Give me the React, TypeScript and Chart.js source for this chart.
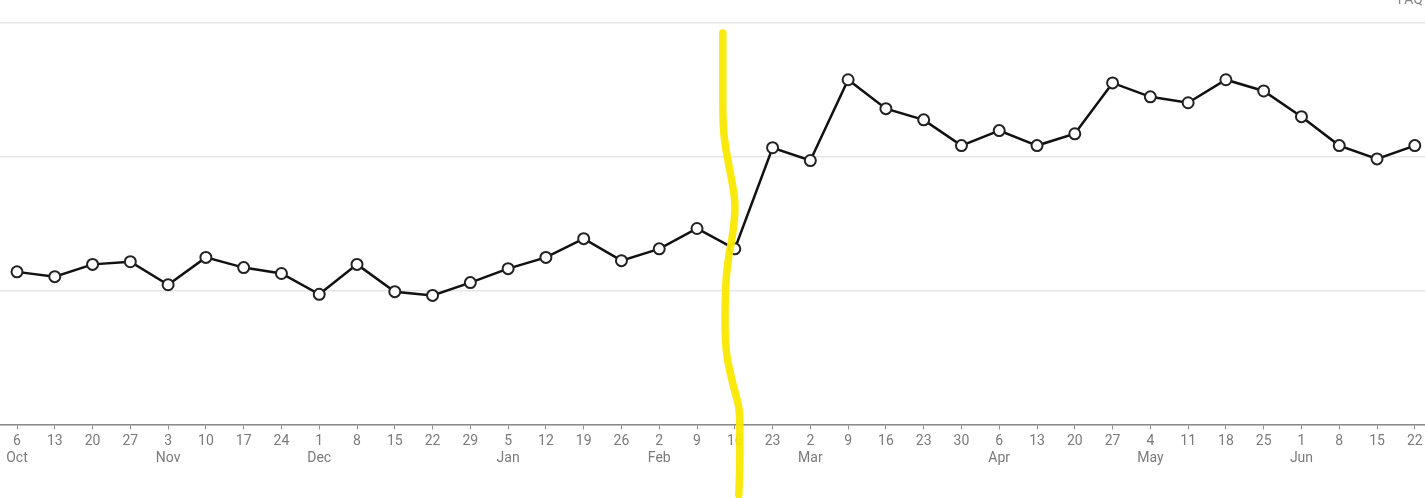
import React, { useEffect, useRef } from "react";
import { Chart, registerables } from "chart.js";

Chart.register(...registerables);

const days: string[] = [
  "6", "13", "20", "27", "3", "10", "17", "24", "1", "8", "15", "22", "29",
  "5", "12", "19", "26", "2", "9", "16", "23", "2", "9", "16", "23", "30",
  "6", "13", "20", "27", "4", "11", "18", "25", "1", "8", "15", "22",
];
const months: string[] = [
  "Oct", "", "", "", "Nov", "", "", "", "Dec", "", "", "", "",
  "Jan", "", "", "", "Feb", "", "", "", "Mar", "", "", "", "",
  "Apr", "", "", "", "May", "", "", "", "Jun", "", "", "",
];
const values: number[] = [
  28.5, 27.6, 29.9, 30.4, 26.1, 31.2, 29.3, 28.2, 24.3, 29.9, 24.8, 24.1, 26.5,
  29.1, 31.2, 34.7, 30.6, 32.8, 36.6, 32.8, 51.7, 49.3, 64.4, 59.0, 56.9, 52.1,
  54.9, 52.1, 54.3, 63.8, 61.2, 60.1, 64.4, 62.3, 57.5, 52.1, 49.6, 52.1,
];
const yGrid: number[] = [0, 25, 50, 75];
const markedIndex = 19; // "16 Feb" hand-drawn marker

const markerPlugin = {
  id: "handMarker",
  afterDatasetsDraw(chart: any) {
    const { ctx } = chart;
    const x0 = chart.scales.x.getPixelForValue(markedIndex);
    // wobbly hand-drawn stroke, offsets relative to the marked point column
    const pts: [number, number][] = [
      [-12, 33], [-12, 80], [-12, 125], [-9, 150], [-3, 180], [1, 205],
      [-2, 235], [-6, 255], [-9, 280], [-10, 320], [-9, 350], [-5, 372],
      [1, 395], [5, 410], [5, 440], [5, 470], [4, 495],
    ];
    ctx.save();
    ctx.strokeStyle = "rgba(250, 232, 0, 0.95)";
    ctx.lineWidth = 7.5;
    ctx.lineCap = "round";
    ctx.lineJoin = "round";
    ctx.beginPath();
    ctx.moveTo(x0 + pts[0][0], pts[0][1]);
    for (let i = 1; i < pts.length - 1; i++) {
      const mx = (x0 + pts[i][0] + x0 + pts[i + 1][0]) / 2;
      const my = (pts[i][1] + pts[i + 1][1]) / 2;
      ctx.quadraticCurveTo(x0 + pts[i][0], pts[i][1], mx, my);
    }
    const last = pts[pts.length - 1];
    ctx.lineTo(x0 + last[0], last[1]);
    ctx.stroke();
    ctx.restore();
  },
};

export default function App() {
  const ref = useRef<HTMLCanvasElement | null>(null);
  useEffect(() => {
    document.body.style.margin = "0";
    const chart = new Chart(ref.current as HTMLCanvasElement, {
      type: "line",
      data: {
        datasets: [
          {
            data: values.map((v, i) => ({ x: i, y: v })),
            borderColor: "#111111",
            borderWidth: 2.5,
            pointRadius: 5.5,
            pointBorderWidth: 2,
            pointBackgroundColor: "#ffffff",
            pointBorderColor: "#222222",
            tension: 0,
            clip: false,
          },
        ],
      },
      options: {
        animation: false,
        responsive: false,
        maintainAspectRatio: false,
        layout: { autoPadding: false, padding: { top: 23, bottom: 27, left: 0, right: 0 } },
        plugins: { legend: { display: false }, tooltip: { enabled: false } },
        scales: {
          x: {
            type: "linear",
            min: -0.45,
            max: 37.27,
            afterBuildTicks: (scale: any) => {
              scale.ticks = days.map((_, i) => ({ value: i }));
            },
            afterFit: (scale: any) => {
              scale.paddingLeft = 0;
              scale.paddingRight = 0;
            },
            ticks: {
              autoSkip: false,
              maxRotation: 0,
              padding: 4,
              color: "#7a7a7a",
              font: { family: "Roboto", size: 14 },
              callback: (v: any) => {
                const i = Math.round(Number(v));
                return months[i] ? [days[i], months[i]] : [days[i], ""];
              },
            },
            grid: {
              drawOnChartArea: false,
              drawTicks: true,
              tickLength: 5,
              color: "#8a8a8a",
            },
            border: { color: "#8a8a8a", width: 1.5 },
          },
          y: {
            min: 0,
            max: 75,
            afterBuildTicks: (scale: any) => {
              scale.ticks = yGrid.map((v) => ({ value: v }));
            },
            afterFit: (scale: any) => {
              scale.width = 0;
            },
            ticks: { display: false, padding: 0 },
            grid: { color: "#e6e6e6", lineWidth: 1.5, drawTicks: false },
            border: { display: false },
          },
        },
      },
      plugins: [markerPlugin],
    } as any);
    return () => chart.destroy();
  }, []);
  return (
    <div style={{ position: "relative", width: 1425, height: 498, overflow: "hidden", background: "#fff" }}>
      <div
        style={{
          position: "absolute",
          right: 2,
          top: -9,
          fontFamily: "Roboto",
          fontSize: 14,
          color: "#888",
        }}
      >
        FAQ
      </div>
      <canvas ref={ref} width={1425} height={498} />
    </div>
  );
}
